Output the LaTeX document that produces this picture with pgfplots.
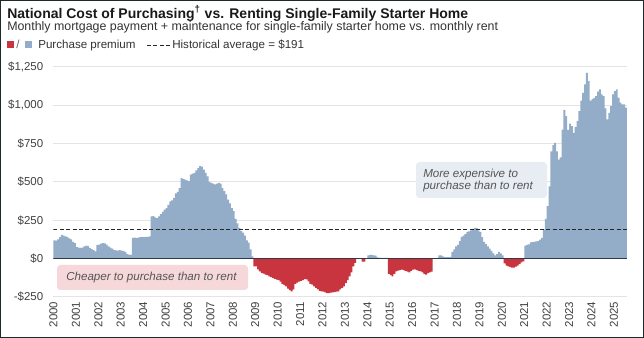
\documentclass[border=0pt]{standalone}
\usepackage{pgfplots}
\pgfplotsset{compat=1.18}
\usepackage{pgfplotstable}
\usepackage{fontspec}
\setmainfont{Liberation Sans}
\definecolor{blueC}{HTML}{93ACC7}
\definecolor{redC}{HTML}{C8353F}
\definecolor{pinkC}{HTML}{F6D8DB}
\definecolor{boxC}{HTML}{E8EDF3}
\definecolor{gridC}{HTML}{E4E4E4}
\definecolor{zeroC}{HTML}{2E3A46}
\definecolor{tickC}{HTML}{404040}
\definecolor{annC}{HTML}{555555}
\definecolor{frameC}{HTML}{1E2A2A}

\pgfplotstableread[row sep=\\]{
v\\
120\\ 118\\ 125\\ 140\\ 155\\ 150\\ 145\\ 140\\ 132\\ 125\\ 110\\ 102\\
75\\ 72\\ 70\\ 72\\ 80\\ 85\\ 82\\ 70\\ 63\\ 55\\ 48\\ 90\\
92\\ 98\\ 102\\ 100\\ 92\\ 80\\ 72\\ 65\\ 55\\ 54\\ 52\\ 55\\
52\\ 50\\ 45\\ 30\\ 26\\ 25\\ 135\\ 138\\ 136\\ 138\\ 140\\ 142\\
140\\ 142\\ 142\\ 145\\ 275\\ 278\\ 270\\ 265\\ 275\\ 290\\ 305\\ 320\\
330\\ 350\\ 374\\ 380\\ 395\\ 425\\ 435\\ 460\\ 525\\ 520\\ 515\\ 510\\
505\\ 548\\ 555\\ 560\\ 575\\ 590\\ 603\\ 600\\ 581\\ 560\\ 537\\ 500\\
494\\ 490\\ 485\\ 490\\ 494\\ 490\\ 460\\ 440\\ 420\\ 385\\ 360\\ 330\\
310\\ 260\\ 230\\ 200\\ 180\\ 170\\ 150\\ 120\\ 104\\ 60\\ 15\\ -50\\
-50\\ -70\\ -83\\ -92\\ -98\\ -104\\ -108\\ -115\\ -120\\ -126\\ -132\\ -137\\
-140\\ -150\\ -165\\ -172\\ -181\\ -195\\ -205\\ -213\\ -200\\ -165\\ -157\\ -150\\
-145\\ -140\\ -133\\ -135\\ -148\\ -165\\ -170\\ -180\\ -191\\ -200\\ -210\\ -213\\
-215\\ -220\\ -224\\ -224\\ -222\\ -220\\ -218\\ -215\\ -213\\ -200\\ -191\\ -181\\
-160\\ -140\\ -116\\ -90\\ -50\\ -28\\ 0\\ 0\\ 0\\ -20\\ -20\\ 0\\
22\\ 25\\ 25\\ 22\\ 20\\ 8\\ 5\\ 5\\ 5\\ 5\\ 5\\ -100\\
-108\\ -116\\ -100\\ -83\\ -78\\ -75\\ -72\\ -75\\ -80\\ -85\\ -89\\ -80\\
-72\\ -70\\ -75\\ -80\\ -83\\ -90\\ -100\\ -104\\ -95\\ -89\\ -85\\ 0\\
0\\ 5\\ 22\\ 22\\ 15\\ 10\\ 10\\ 10\\ 12\\ 45\\ 60\\ 80\\
90\\ 115\\ 142\\ 150\\ 160\\ 174\\ 178\\ 185\\ 195\\ 200\\ 200\\ 185\\
174\\ 140\\ 109\\ 95\\ 80\\ 65\\ 50\\ 35\\ 22\\ 30\\ 45\\ 35\\
22\\ -30\\ -45\\ -50\\ -55\\ -59\\ -58\\ -52\\ -46\\ -35\\ -25\\ -17\\
85\\ 90\\ 93\\ 107\\ 108\\ 110\\ 113\\ 115\\ 124\\ 135\\ 189\\ 260\\
342\\ 472\\ 700\\ 740\\ 755\\ 700\\ 646\\ 660\\ 842\\ 970\\ 930\\ 840\\
880\\ 864\\ 821\\ 860\\ 897\\ 962\\ 1030\\ 1082\\ 1136\\ 1212\\ 1158\\ 1030\\
1040\\ 1049\\ 1060\\ 1090\\ 1104\\ 1071\\ 1060\\ 980\\ 908\\ 950\\ 995\\ 1071\\
1093\\ 1104\\ 1050\\ 1017\\ 1006\\ 1006\\ 985\\ 985\\
}\datatable

\begin{document}
\begin{tikzpicture}
\useasboundingbox (0,0) rectangle (483pt,-253.5pt);
\begin{axis}[
  at={(40.125pt,-222.75pt)}, anchor=south west,
  scale only axis, width=430.125pt, height=172.5pt,
  xmin=2000, xmax=2025.5833, ymin=-250, ymax=1250,
  axis line style={draw=none},
  major tick length=0pt,
  ytick={-250,0,250,500,750,1000,1250},
  yticklabels={{-\$250},{\$0},{\$250},{\$500},{\$750},{\$1,000},{\$1,250}},
  xtick={2000,2001,2002,2003,2004,2005,2006,2007,2008,2009,2010,2011,2012,2013,2014,2015,2016,2017,2018,2019,2020,2021,2022,2023,2024,2025},
  xticklabels={2000,2001,2002,2003,2004,2005,2006,2007,2008,2009,2010,2011,2012,2013,2014,2015,2016,2017,2018,2019,2020,2021,2022,2023,2024,2025},
  ymajorgrids, grid style={gridC, line width=0.75pt},
  tick label style={font=\fontsize{8.6}{10}\selectfont, text=tickC},
  yticklabel style={anchor=east, inner sep=0pt, xshift=-7.5pt},
  xticklabel style={rotate=90, anchor=east},
]
\addplot[const plot, fill=blueC, draw=none] table[x index=0, y index=0, x expr=2000+\coordindex/12, y expr={max(\thisrow{v},0)}] {\datatable} \closedcycle;
\addplot[const plot, fill=redC, draw=none] table[x index=0, y index=0, x expr=2000+\coordindex/12, y expr={min(\thisrow{v},0)}] {\datatable} \closedcycle;
\addplot[zeroC, line width=1.1pt] coordinates {(2000,0) (2025.5833,0)};
\addplot[black!85, line width=1pt, dash pattern=on 3pt off 1.8pt] coordinates {(2000,191) (2025.5833,191)};
\end{axis}
\begin{scope}[x=0.75pt,y=-0.75pt]
\fill[pinkC, rounded corners=2.5pt] (57,265) rectangle (248,290);
\node[anchor=west, inner sep=0pt, font=\itshape\fontsize{8.7}{10}\selectfont, text=annC] at (66,277.5) {Cheaper to purchase than to rent};
\fill[boxC, rounded corners=2.5pt] (416,162) rectangle (547,198);
\node[anchor=base west, inner sep=0pt, font=\itshape\fontsize{8.7}{10}\selectfont, text=annC] at (423,177.5) {More expensive to};
\node[anchor=base west, inner sep=0pt, font=\itshape\fontsize{8.7}{10}\selectfont, text=annC] at (423,190) {purchase than to rent};
% title
\node[anchor=base west, inner sep=0pt, font=\bfseries\fontsize{10.5}{12}\selectfont, text=black!90] at (7,18.3) {National Cost of Purchasing\textsuperscript{†} vs. Renting Single-Family Starter Home};
\node[anchor=base west, inner sep=0pt, font=\fontsize{9.3}{11}\selectfont, text=black!80] at (7,31) {Monthly mortgage payment + maintenance for single-family starter home vs. monthly rent};
% legend
\fill[redC] (7,41.5) rectangle (14,48.5);
\node[anchor=base west, inner sep=0pt, font=\fontsize{8.7}{10}\selectfont, text=black!60] at (16,49) {/};
\fill[blueC] (25,41.5) rectangle (32,48.5);
\node[anchor=base west, inner sep=0pt, font=\fontsize{8.7}{10}\selectfont, text=black!80] at (38,49) {Purchase premium};
\draw[black!85, line width=1pt, dash pattern=on 3pt off 1.8pt] (147,45.5) -- (170,45.5);
\node[anchor=base west, inner sep=0pt, font=\fontsize{8.7}{10}\selectfont, text=black!80] at (172,49) {Historical average = \$191};
\draw[frameC, line width=0.75pt] (0.5,0.5) rectangle (643.5,337.5);
\end{scope}
\end{tikzpicture}
\end{document}
